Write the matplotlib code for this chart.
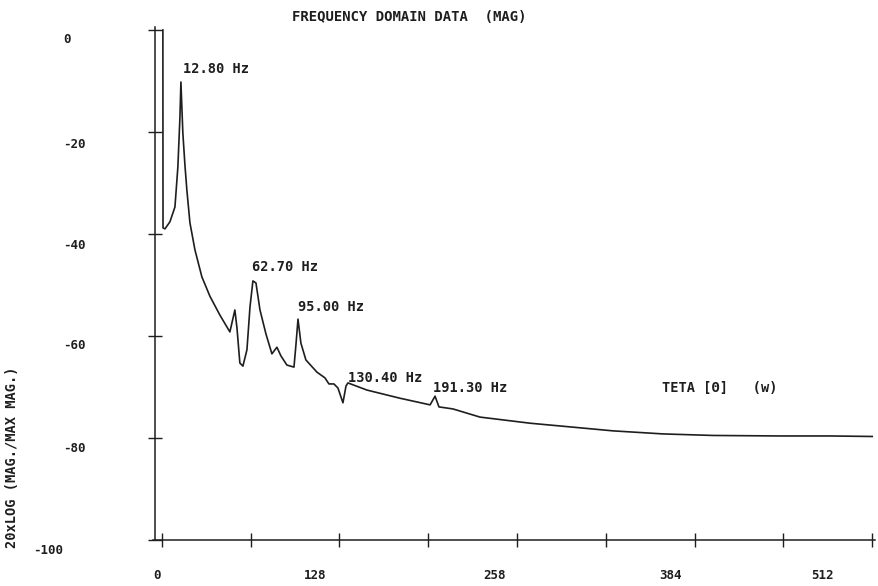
import matplotlib
matplotlib.use('Agg')
from matplotlib import pyplot as plt
from matplotlib.ticker import FixedLocator

freq = [0.7, 0.8, 2.2, 5.8, 9.4, 11.5, 13.0, 13.7, 15.1, 16.6, 18.0, 20.2, 23.8, 28.8,
        34.6, 41.8, 49.0, 52.6, 54.1, 56.2, 58.4, 61.3, 63.5, 65.6, 67.8, 70.7, 75.0,
        79.3, 82.9, 85.8, 90.1, 95.2, 96.6, 98.1, 100.2, 103.8, 111.8, 117.5, 120.4,
        124.0, 126.9, 130.5, 132.7, 134.1, 147.8, 171.6, 193.3, 196.9, 199.7, 209.8,
        229.3, 265.4, 301.4, 325.2, 361.3, 397.3, 445.6, 481.7, 512.0]
mag_db = [0.0, -38.8, -39.0, -37.6, -34.7, -26.9, -17.1, -10.2, -20.2, -26.5, -31.4,
          -37.8, -43.1, -48.4, -52.2, -55.9, -59.2, -54.9, -58.4, -65.3, -65.9, -62.7,
          -54.3, -49.2, -49.6, -54.9, -59.6, -63.5, -62.2, -63.9, -65.7, -66.1, -61.8,
          -56.7, -61.4, -64.7, -67.1, -68.2, -69.4, -69.4, -70.2, -73.1, -69.8, -69.2,
          -70.6, -72.2, -73.5, -71.8, -73.9, -74.3, -75.9, -77.1, -78.0, -78.6, -79.2,
          -79.5, -79.6, -79.6, -79.7]

peak_labels = ['12.80 Hz', '62.70 Hz', '95.00 Hz', '130.40 Hz', '191.30 Hz']
peak_label_x = [15.1, 64.9, 98.1, 134.1, 195.4]
peak_label_y = [-7.6, -46.5, -54.3, -68.2, -70.2]

x_marks = [0, 64, 128, 192, 256, 320, 384, 448, 512]
y_marks = [0, -20, -40, -60, -80, -100]
x_tick_labels = ['0', '128', '258', '384', '512']
x_label_pos = [-3.6, 110.3, 239.4, 366.3, 475.9]
y_tick_labels = ['0', '-20', '-40', '-60', '-80', '-100']
y_label_pos = [-1.8, -22.4, -42.2, -61.8, -82.0, -102.0]

ink = '#1e1e1e'
mono = 'DejaVu Sans Mono'

fig = plt.figure(figsize=(8.79, 5.86), dpi=100)
ax = fig.add_axes([0.1763, 0.048, 0.8191, 0.9061])

ax.plot(freq, mag_db, color=ink, linewidth=1.2)

ax.set_xlim(-5, 514)
ax.set_ylim(-103.5, 0.6)
ax.spines['top'].set_visible(False)
ax.spines['right'].set_visible(False)
ax.spines['bottom'].set_position(('data', -100))
ax.spines['left'].set_bounds(-100, 0.6)
ax.spines['bottom'].set_bounds(-6.5, 514)
for s in ['left', 'bottom']:
    ax.spines[s].set_color(ink)
    ax.spines[s].set_linewidth(1.1)

ax.xaxis.set_minor_locator(FixedLocator(x_marks))
ax.yaxis.set_minor_locator(FixedLocator(y_marks))
ax.set_xticks(x_label_pos, x_tick_labels)
ax.set_yticks(y_label_pos, y_tick_labels)
ax.tick_params(which='minor', direction='inout', length=10, width=1.0, color=ink)
ax.tick_params(which='major', length=0, labelcolor=ink, labelsize=9)
ax.tick_params(axis='x', which='major', pad=21)
ax.tick_params(axis='y', which='major', pad=66)
for lab in ax.get_xticklabels() + ax.get_yticklabels():
    lab.set_fontfamily(mono)
    lab.set_fontweight('bold')
for lab in ax.get_yticklabels():
    lab.set_horizontalalignment('left')
    lab.set_verticalalignment('center')
ax.get_yticklabels()[-1].set_horizontalalignment('right')

for txt, x, y in zip(peak_labels, peak_label_x, peak_label_y):
    ax.text(x, y, txt, ha='left', va='center', fontsize=9.8, family=mono,
            weight='bold', color=ink)
ax.text(360.6, -70.2, 'TETA [\u0398]   (w)', ha='left', va='center', fontsize=9.8,
        family=mono, weight='bold', color=ink)

fig.text(409 / 879, 1 - 17 / 586, 'FREQUENCY DOMAIN DATA  (MAG)', ha='center', va='center',
         fontsize=10, family=mono, weight='bold', color=ink)
fig.text(12 / 879, 1 - 457 / 586, '20xLOG (MAG./MAX MAG.)', rotation=90, ha='center',
         va='center', fontsize=9.8, family=mono, weight='bold', color=ink)

fig.savefig('out.png', dpi=100)
